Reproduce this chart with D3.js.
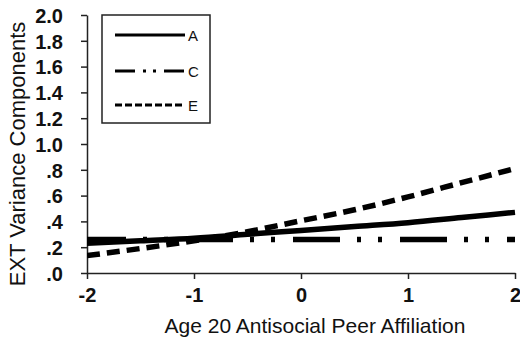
<!DOCTYPE html>
<html>
<head>
<meta charset="utf-8">
<script src="https://cdn.jsdelivr.net/npm/d3@7"></script>
<style>
  html, body { margin: 0; padding: 0; background: #fff; }
  svg { display: block; }
  text { font-family: "Liberation Sans", Arial, sans-serif; fill: #111; }
</style>
</head>
<body>
<svg id="chart" width="520" height="339"></svg>
<script>
// Moderator values (age 20 antisocial peer affiliation)
const xValues = [-2, -1.5, -1, -0.5, 0, 0.5, 1, 1.5, 2];
// Variance components of externalizing at each moderator value
const aValues = [0.23, 0.25, 0.27, 0.30, 0.33, 0.36, 0.39, 0.43, 0.47];
const cValues = [0.26, 0.26, 0.26, 0.26, 0.26, 0.26, 0.26, 0.26, 0.26];
const eValues = [0.135, 0.19, 0.25, 0.32, 0.405, 0.49, 0.59, 0.70, 0.81];

const xTicks = [-2, -1, 0, 1, 2];
const xTickLabels = ["-2", "-1", "0", "1", "2"];
const yTicks = [0, 0.2, 0.4, 0.6, 0.8, 1.0, 1.2, 1.4, 1.6, 1.8, 2.0];
const yTickLabels = [".0", ".2", ".4", ".6", ".8", "1.0", "1.2", "1.4", "1.6", "1.8", "2.0"];

const seriesNames = ["A", "C", "E"];
const seriesValues = [aValues, cValues, eValues];
const lineDash = ["none", "47,17,4,17,4,18", "13,7"];
const legendDash = ["none", "20,8,3,7,3,8", "7,3"];

const svg = d3.select("#chart");
const x = d3.scaleLinear().domain([-2, 2]).range([87, 515]);
const y = d3.scaleLinear().domain([0, 2]).range([273, 15]);

const tickFont = sel => sel
  .attr("font-size", 20).attr("font-weight", "bold")
  .attr("font-family", "Liberation Sans, Arial, sans-serif").attr("fill", "#111");

// Y axis
const yAxis = svg.append("g")
  .attr("transform", `translate(${x(-2)},0)`)
  .call(d3.axisLeft(y).tickValues(yTicks)
    .tickFormat((d, i) => yTickLabels[i]).tickSize(6).tickSizeOuter(0).tickPadding(18));
yAxis.select(".domain").attr("stroke", "#222").attr("stroke-width", 1.5);
yAxis.selectAll(".tick line").attr("stroke", "#222").attr("stroke-width", 1.5);
yAxis.selectAll(".tick text").call(tickFont).attr("dy", "0.36em");

// X axis
const xAxis = svg.append("g")
  .attr("transform", `translate(0,${y(0)})`)
  .call(d3.axisBottom(x).tickValues(xTicks)
    .tickFormat((d, i) => xTickLabels[i]).tickSize(6).tickSizeOuter(0).tickPadding(9));
xAxis.select(".domain").attr("stroke", "#222").attr("stroke-width", 1.5);
xAxis.selectAll(".tick line").attr("stroke", "#222").attr("stroke-width", 1.5);
xAxis.selectAll(".tick text").call(tickFont);

// Axis titles
svg.append("text")
  .attr("x", 315).attr("y", 333)
  .attr("text-anchor", "middle")
  .attr("font-size", 21)
  .text("Age 20 Antisocial Peer Affiliation");

svg.append("text")
  .attr("transform", "translate(24.5,154) rotate(-90)")
  .attr("text-anchor", "middle")
  .attr("font-size", 22)
  .text("EXT Variance Components");

// Series lines
const line = d3.line()
  .x((d, i) => x(xValues[i]))
  .y(d => y(d))
  .curve(d3.curveMonotoneX);

svg.append("clipPath").attr("id", "plotClip")
  .append("rect").attr("x", x(-2)).attr("y", 0).attr("width", x(2) - x(-2) + 2).attr("height", 339);

const plot = svg.append("g").attr("clip-path", "url(#plotClip)");
[1, 0, 2].forEach(k => {
  plot.append("path")
    .datum(seriesValues[k])
    .attr("d", line)
    .attr("fill", "none")
    .attr("stroke", "#000")
    .attr("stroke-width", 5.5)
    .attr("stroke-dasharray", lineDash[k])
    .attr("stroke-dashoffset", k === 1 ? 8 : 0);
});

// Legend
const legend = svg.append("g");
legend.append("rect")
  .attr("x", 102).attr("y", 15).attr("width", 108).attr("height", 108)
  .attr("fill", "#fff").attr("stroke", "#222").attr("stroke-width", 1.5);
const legendY = [35, 71, 105];
seriesNames.forEach((name, i) => {
  legend.append("line")
    .attr("x1", 115).attr("x2", 185)
    .attr("y1", legendY[i]).attr("y2", legendY[i])
    .attr("stroke", "#000").attr("stroke-width", 3.2)
    .attr("stroke-dasharray", legendDash[i]);
  legend.append("text")
    .attr("x", 188).attr("y", legendY[i] + 5.5)
    .attr("font-size", 15)
    .text(name);
});
</script>
</body>
</html>
